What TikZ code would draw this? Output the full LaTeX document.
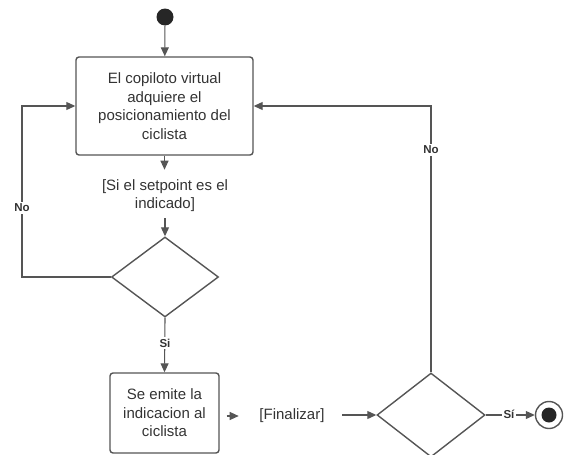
\documentclass[tikz,border=0pt]{standalone}
\usepackage{fontspec}
\setmainfont{Liberation Sans}
\usetikzlibrary{shapes.geometric,arrows.meta}
\definecolor{linegray}{HTML}{555555}
\definecolor{textgray}{HTML}{333333}
\tikzset{
  actbox/.style={draw=linegray, line width=1.4pt, rounded corners=3pt, align=center,
    text=textgray, font=\fontsize{15}{18.5}\selectfont, inner sep=0pt},
  decision/.style={draw=linegray, line width=1.4pt, diamond, inner sep=0pt},
  flow/.style={draw=linegray, line width=1.1pt, -{Triangle[length=9pt,width=8pt]}, fill=none},
  plainflow/.style={draw=linegray, line width=1.1pt},
  guard/.style={text=textgray, align=center, font=\fontsize{15}{18}\selectfont},
  branch/.style={text=textgray, font=\bfseries\fontsize{11.5}{12}\selectfont, fill=white, inner sep=1.5pt},
}
\begin{document}
\begin{tikzpicture}[x=1pt,y=-1pt]
\useasboundingbox (0,0) rectangle (565,455);

% initial and final states
\node[circle, fill=black!85, minimum size=17pt, inner sep=0pt] (start) at (165,17) {};
\node[circle, draw=linegray, line width=1.4pt, minimum size=27pt, inner sep=0pt] (finish) at (549,415) {};
\node[circle, fill=black!85, minimum size=15pt, inner sep=0pt] at (finish) {};

% activities
\node[actbox, minimum width=177pt, minimum height=98pt] (acq) at (164.5,106)
  {El copiloto virtual\\adquiere el\\posicionamiento del\\ciclista};
\node[actbox, minimum width=109pt, minimum height=80pt] (emit) at (164.5,413)
  {Se emite la\\indicacion al\\ciclista};

% decisions
\node[decision, minimum width=107pt, minimum height=80pt] (d1) at (165,277) {};
\node[decision, minimum width=108pt, minimum height=84pt] (d2) at (431,415) {};

% guards
\node[guard] (g1) at (165,196) {[Si el setpoint es el\\indicado]};
\node[guard] (g2) at (292,416) {[Finalizar]};

% connectors
\draw[flow] (start) -- (acq);
\draw[flow] (acq.south) -- ++(0,14);
\draw[flow] (g1.south |- 0,218) -- (d1.north);
\draw[plainflow] (d1.west) -| (22,200);
\draw[flow] (22,200) |- (acq.west);
\node[branch] at (22,208) {No};
\draw[flow] (d1.south) -- (emit.north);
\node[branch] at (165,343) {Si};
\draw[flow] ([shift={(7,3)}]emit.east) -- ++(12,0);
\draw[flow] (d2.west) ++(-34,0) -- (d2.west);
\draw[flow] (d2.north) |- (acq.east);
\node[branch] at (431,150) {No};
\draw[flow] (d2.east) -- (finish.west);
\node[branch] at (509,414) {Sí};
\end{tikzpicture}
\end{document}
